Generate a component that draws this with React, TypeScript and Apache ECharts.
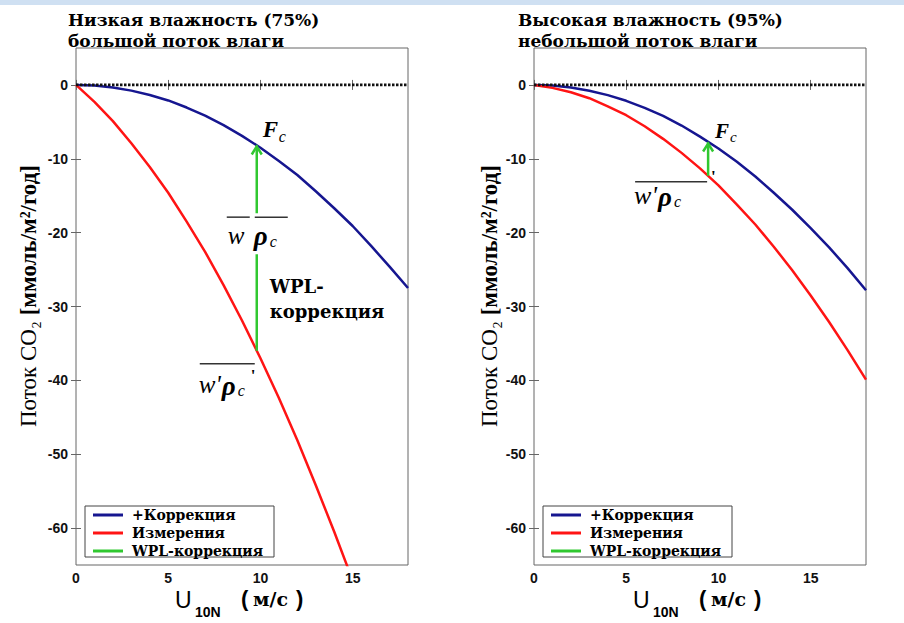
import { useEffect, useRef } from "react";
import * as echarts from "echarts";

// Wind speed U10N (m/s) and CO2 flux curves (mmol/m2/yr)
const windSpeed = [0, 1, 2, 3, 4, 5, 6, 7, 8, 9, 10, 11, 12, 13, 14, 15, 16, 17, 18];
const lowCorrected = [0, -0.09, -0.34, -0.77, -1.36, -2.1, -3.06, -4.17, -5.44, -6.9, -8.5, -10.3, -12.2, -14.4, -16.7, -19.1, -21.8, -24.6, -27.5];
const lowMeasured = [0, -2.3, -4.9, -7.9, -11.1, -14.6, -18.5, -22.6, -27.1, -31.9, -37.0, -42.4, -48.1, -54.2, -60.5, -67.1];
const highCorrected = [0, -0.09, -0.34, -0.78, -1.38, -2.15, -3.1, -4.2, -5.5, -7.0, -8.6, -10.4, -12.4, -14.6, -16.9, -19.4, -22.0, -24.8, -27.8];
const highMeasured = [0, -0.4, -1.0, -1.8, -2.9, -4.1, -5.6, -7.3, -9.2, -11.3, -13.6, -16.2, -18.9, -21.9, -25.1, -28.5, -32.1, -35.9, -39.9];

const xTicks = [0, 5, 10, 15];
const yTicks = [0, -10, -20, -30, -40, -50, -60];
const seriesNames = ["+Коррекция", "Измерения", "WPL-коррекция"];
const titlesLow = ["Низкая влажность (75%)", "большой поток влаги"];
const titlesHigh = ["Высокая влажность (95%)", "небольшой поток влаги"];
// WPL correction arrows: [wind speed, measured flux (tail), corrected flux (head)]
const wplLow = [9.8, -36.0, -8.2];
const wplHigh = [9.44, -12.3, -7.8];

const BLUE = "#161690";
const RED = "#ff1414";
const GREEN = "#30c830";
const FRAME = "#666";

const PANEL_LEFT = [76, 534];
const PANEL_TOP = 48;
const PANEL_W = 332;
const PANEL_H = 517;

const pairs = (ys: number[]) => ys.map((y, i) => [windSpeed[i], y]);

const tickFont = {
  fontFamily: "Liberation Sans",
  fontWeight: "bold" as const,
  fontSize: 14,
  color: "#111",
};

function buildOption() {
  const grids = PANEL_LEFT.map((left) => ({
    left,
    top: PANEL_TOP,
    width: PANEL_W,
    height: PANEL_H,
    show: true,
    borderColor: FRAME,
    borderWidth: 1,
    backgroundColor: "transparent",
  }));

  const xAxisFor = (p: number, position: string, labels: boolean) => ({
    type: "value",
    gridIndex: p,
    position,
    min: 0,
    max: 18,
    interval: 5,
    axisLine: { show: false },
    splitLine: { show: false },
    axisTick: { inside: true, length: 5, customValues: xTicks, lineStyle: { color: FRAME } },
    axisLabel: labels ? { ...tickFont, margin: 6, customValues: xTicks } : { show: false },
  });
  const yAxisFor = (p: number, position: string, labels: boolean) => ({
    type: "value",
    gridIndex: p,
    position,
    min: -65,
    max: 5,
    axisLine: { show: false },
    splitLine: { show: false },
    axisTick: { inside: true, length: 5, customValues: yTicks, lineStyle: { color: FRAME } },
    axisLabel: labels ? { ...tickFont, margin: 8, customValues: yTicks } : { show: false },
  });

  const panelSeries = (p: number, corrected: number[], measured: number[], wpl: number[]) => [
    {
      name: seriesNames[0],
      type: "line",
      xAxisIndex: p,
      yAxisIndex: p,
      data: pairs(corrected),
      symbol: "none",
      lineStyle: { color: BLUE, width: 2.5 },
      itemStyle: { color: BLUE },
      z: 3,
    },
    {
      name: seriesNames[1],
      type: "line",
      xAxisIndex: p,
      yAxisIndex: p,
      data: pairs(measured),
      symbol: "none",
      lineStyle: { color: RED, width: 2.5 },
      itemStyle: { color: RED },
      z: 3,
    },
    {
      name: seriesNames[2],
      type: "line",
      xAxisIndex: p,
      yAxisIndex: p,
      data: [
        [wpl[0], wpl[1]],
        [wpl[0], wpl[2]],
      ],
      symbol: "none",
      lineStyle: { color: GREEN, width: 2.5 },
      itemStyle: { color: GREEN },
      z: 3,
    },
    {
      type: "line",
      xAxisIndex: p,
      yAxisIndex: p,
      data: [
        [0, 0],
        [18, 0],
      ],
      symbol: "none",
      silent: true,
      lineStyle: { color: "#111", width: 2.8, type: [2.5, 1.5] },
      z: 4,
    },
  ];

  return {
    animation: false,
    backgroundColor: "#fff",
    grid: grids,
    xAxis: [xAxisFor(0, "bottom", true), xAxisFor(1, "bottom", true), xAxisFor(0, "top", false), xAxisFor(1, "top", false)],
    yAxis: [yAxisFor(0, "left", true), yAxisFor(1, "left", true), yAxisFor(0, "right", false), yAxisFor(1, "right", false)],
    legend: PANEL_LEFT.map((left) => ({
      data: seriesNames,
      orient: "vertical",
      left: left + 17,
      top: 508,
      padding: 0,
      itemWidth: 30,
      itemHeight: 3,
      itemGap: 4,
      icon: "rect",
      selectedMode: false,
      z: 8,
      textStyle: {
        fontFamily: "DejaVu Serif",
        fontWeight: "bold",
        fontSize: 14,
        lineHeight: 13,
        color: "#000",
        padding: [0, 0, 0, 4],
      },
    })),
    series: [
      ...panelSeries(0, lowCorrected, lowMeasured, wplLow),
      ...panelSeries(1, highCorrected, highMeasured, wplHigh),
    ],
  };
}

type Font = { size: number; family?: string; weight?: string; style?: string };

const txt = (x: number, y: number, text: string, f: Font, align = "left") => ({
  type: "text",
  x,
  y,
  z: 20,
  style: {
    text,
    fontFamily: f.family || "Liberation Serif",
    fontSize: f.size,
    fontWeight: f.weight || "normal",
    fontStyle: f.style || "normal",
    fill: "#000",
    align,
    verticalAlign: "middle",
  },
});

const bar = (x1: number, x2: number, y: number) => ({
  type: "line",
  z: 20,
  shape: { x1, y1: y, x2, y2: y },
  style: { stroke: "#333", lineWidth: 1.5 },
});

const arrowHead = (x: number, y: number) => ({
  type: "polyline",
  z: 20,
  shape: { points: [[x - 5, y + 9], [x, y + 1], [x + 5, y + 9]] },
  style: { stroke: GREEN, lineWidth: 2.5, fill: null },
});

const italic = (size: number): Font => ({ size, style: "italic" });
const boldItalic = (size: number): Font => ({ size, style: "italic", weight: "bold" });

function buildGraphics(chart: echarts.ECharts) {
  const px = (p: number, x: number, y: number) =>
    chart.convertToPixel({ xAxisIndex: p, yAxisIndex: p }, [x, y]) as number[];

  const els: any[] = [];

  // light band along the top edge
  els.push({ type: "rect", z: 1, shape: { x: 0, y: 0, width: 904, height: 5 }, style: { fill: "#cfe0f2" } });

  // panel titles, axis names, legend frames
  [titlesLow, titlesHigh].forEach((t, p) => {
    const o = PANEL_LEFT[p] - PANEL_LEFT[0];
    const tf: Font = { size: 17, family: "DejaVu Serif", weight: "bold" };
    els.push(txt(68 + o - (p ? 8 : 0), 20, t[0], tf));
    els.push(txt(68 + o - (p ? 8 : 0), 41, t[1], tf));

    els.push({
      type: "rect",
      z: 7,
      shape: { x: PANEL_LEFT[p] + 9, y: 506, width: 189, height: 51 },
      style: { fill: "#fff", stroke: "#444", lineWidth: 1 },
    });

    els.push(txt(175 + o, 600, "U", { size: 23, family: "Liberation Sans" }));
    els.push(txt(195 + o, 612, "10N", { size: 14, family: "Liberation Sans", weight: "bold" }));
    els.push(txt(241 + o, 598, "(", { size: 22, family: "Liberation Sans", weight: "bold" }));
    els.push(txt(253 + o, 599, "м/с", { size: 19, family: "DejaVu Serif", weight: "bold" }));
    els.push(txt(296 + o, 598, ")", { size: 22, family: "Liberation Sans", weight: "bold" }));

    els.push({
      type: "text",
      x: p ? 489 : 28,
      y: 296,
      z: 20,
      rotation: Math.PI / 2,
      style: {
        text: "{a|Поток CO₂ }{b|[ммоль/м²/год]}",
        rich: {
          a: { fontFamily: "Liberation Serif", fontSize: 23, fill: "#000" },
          b: { fontFamily: "Liberation Serif", fontWeight: "bold", fontSize: 23, fill: "#000" },
        },
        align: "center",
        verticalAlign: "middle",
      },
    });
  });

  // left panel: WPL correction annotation
  {
    const tip = px(0, wplLow[0], wplLow[2]);
    const base = px(0, wplLow[0], wplLow[1]);
    const midY = (tip[1] + base[1]) / 2 - 14;
    const cx = tip[0];
    els.push(arrowHead(cx, tip[1]));
    els.push({ type: "rect", z: 19, shape: { x: cx - 6, y: midY - 21, width: 12, height: 41 }, style: { fill: "#fff" } });
    els.push(bar(cx - 30, cx - 7, midY - 17));
    els.push(bar(cx - 2, cx + 31, midY - 17));
    els.push(txt(cx - 29, midY + 1, "w", italic(25)));
    els.push(txt(cx - 3, midY + 2, "ρ", boldItalic(27)));
    els.push(txt(cx + 13, midY + 7, "c", italic(16)));

    els.push(txt(cx + 6, tip[1] - 16, "F", boldItalic(23)));
    els.push(txt(cx + 22, tip[1] - 9, "c", italic(16)));

    const wf: Font = { size: 18, family: "DejaVu Serif", weight: "bold" };
    els.push(txt(cx + 13, base[1] - 64, "WPL-", wf));
    els.push(txt(cx + 13, base[1] - 39, "коррекция", wf));

    const bx = base[0];
    const by = base[1];
    els.push(bar(bx - 57, bx - 2, by + 13));
    els.push(txt(bx - 58, by + 34, "w'", italic(25)));
    els.push(txt(bx - 35, by + 35, "ρ", boldItalic(27)));
    els.push(txt(bx - 19, by + 40, "c", italic(16)));
    els.push(txt(bx - 6, by + 25, "'", { size: 17, weight: "bold" }));
  }

  // right panel: WPL correction annotation
  {
    const tip = px(1, wplHigh[0], wplHigh[2]);
    const base = px(1, wplHigh[0], wplHigh[1]);
    els.push(arrowHead(tip[0], tip[1]));
    els.push(txt(tip[0] + 7, tip[1] - 12, "F", boldItalic(21)));
    els.push(txt(tip[0] + 22, tip[1] - 6, "c", italic(15)));

    const bx = base[0];
    const by = base[1];
    els.push(bar(bx - 73, bx - 1, by + 6));
    els.push(txt(bx - 74, by + 20, "w'", italic(26)));
    els.push(txt(bx - 50, by + 21, "ρ", boldItalic(27)));
    els.push(txt(bx - 34, by + 26, "c", italic(16)));
    els.push(txt(bx + 3, by + 1, "'", { size: 17, weight: "bold" }));
  }

  return els;
}

export default function App() {
  const ref = useRef<HTMLDivElement>(null);

  useEffect(() => {
    if (!ref.current) return;
    const chart = echarts.init(ref.current, null, { renderer: "svg" });
    chart.setOption(buildOption() as any);
    chart.setOption({ graphic: { elements: buildGraphics(chart) } } as any);
    return () => chart.dispose();
  }, []);

  return (
    <div
      ref={ref}
      style={{ position: "fixed", left: 0, top: 0, width: 904, height: 623, background: "#fff" }}
    />
  );
}
